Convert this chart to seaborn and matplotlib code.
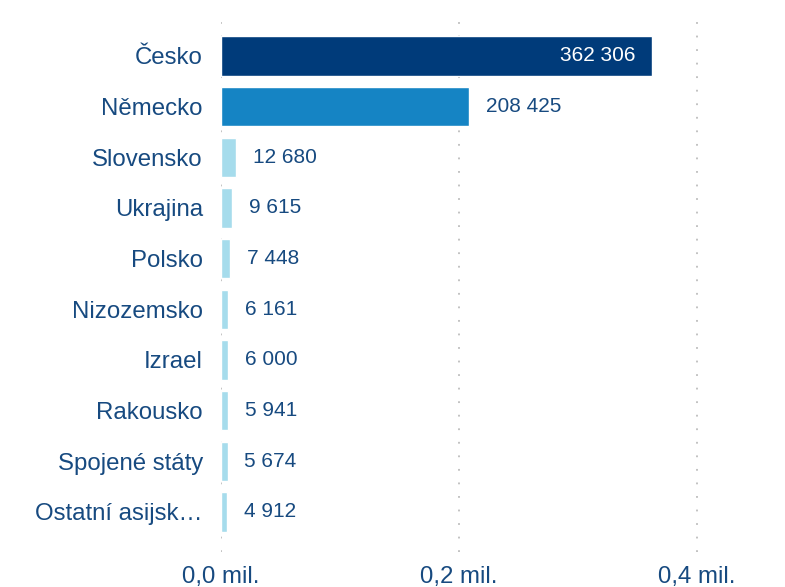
import matplotlib
matplotlib.use("Agg")
import matplotlib.pyplot as plt
import pandas as pd
import seaborn as sns
from matplotlib.ticker import FuncFormatter

countries = [
    "Česko", "Německo", "Slovensko", "Ukrajina", "Polsko",
    "Nizozemsko", "Izrael", "Rakousko", "Spojené státy", "Ostatní asijsk…",
]
visitors = [362306, 208425, 12680, 9615, 7448, 6161, 6000, 5941, 5674, 4912]
bar_colors = ["#003b7a", "#1584c4"] + ["#a6dcec"] * 8

TEXT = "#174a80"

sns.set_theme(style="white")
plt.rcParams["font.family"] = ["Liberation Sans", "DejaVu Sans"]

df = pd.DataFrame({"country": countries, "visitors": visitors})

fig = plt.figure(figsize=(7.85, 5.87), dpi=100)
# axes spans the dotted gridlines: y 22..552 px, x 221..780 px
ax = fig.add_axes([221 / 785, (587 - 552) / 587, (780 - 221) / 785, (552 - 22) / 587])

sns.barplot(data=df, x="visitors", y="country", hue="country", palette=bar_colors,
            legend=False, width=0.78, saturation=1, ax=ax)

ax.set_xlim(0, 470000)
ax.set_ylim(9.79, -0.67)
ax.set_xticks([0, 200000, 400000])
ax.xaxis.set_major_formatter(FuncFormatter(lambda v, _: f"{v / 1e6:.1f}".replace(".", ",") + " mil."))
ax.xaxis.grid(True, linestyle=(0, (1, 6.5)), color="#bdbdbd", linewidth=1.3)
ax.set_axisbelow(True)
for s in ax.spines.values():
    s.set_visible(False)
ax.set_xlabel("")
ax.set_ylabel("")
ax.tick_params(axis="both", length=0, labelsize=17.3, colors=TEXT)
ax.tick_params(axis="y", pad=13)
ax.tick_params(axis="x", pad=10)

for i, v in enumerate(visitors):
    label = f"{v:,}".replace(",", " ")
    if i == 0:
        ax.annotate(label, (v, i), xytext=(-12, 0), textcoords="offset points",
                    ha="right", va="center", color="white", fontsize=15)
    else:
        ax.annotate(label, (v, i), xytext=(12, 0), textcoords="offset points",
                    ha="left", va="center", color=TEXT, fontsize=15)

fig.savefig("out.png", dpi=100)
